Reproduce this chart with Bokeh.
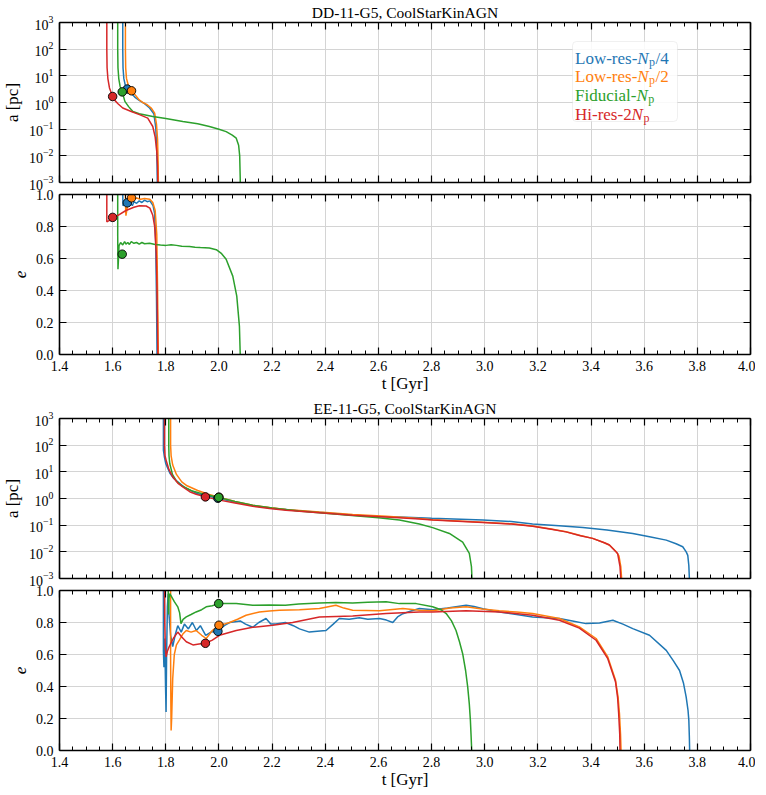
import numpy as np
from bokeh.plotting import figure
from bokeh.models import (LinearAxis, LogAxis, FixedTicker, CustomJSTickFormatter,
                          PrintfTickFormatter, Label, BoxAnnotation, Range1d,
                          ColumnDataSource)
from bokeh.layouts import column
from bokeh.embed import file_html
from bokeh.resources import INLINE

# ---------------- data ----------------
run_keys = ["lr4", "lr2", "fid", "hr2"]
run_colors = {"lr4": "#1f77b4", "lr2": "#ff7f0e", "fid": "#2ca02c", "hr2": "#d62728"}

x_ticks = [1.4, 1.6, 1.8, 2.0, 2.2, 2.4, 2.6, 2.8, 3.0, 3.2, 3.4, 3.6, 3.8, 4.0]
a_ticks = [1e-3, 1e-2, 1e-1, 1e0, 1e1, 1e2, 1e3]
e_ticks = [0.0, 0.2, 0.4, 0.6, 0.8, 1.0]
titles = ["DD-11-G5, CoolStarKinAGN", "EE-11-G5, CoolStarKinAGN"]

# DD-11-G5 : separation a [pc]
dd_lr4_t_a = [1.638, 1.638, 1.639, 1.642, 1.648, 1.655, 1.668, 1.683, 1.700, 1.720, 1.739, 1.755, 1.762, 1.765, 1.767, 1.768]
dd_lr4_a = [1000, 100, 20, 8.0, 4.2, 3.2, 2.3, 1.6, 1.2, 0.9, 0.62, 0.38, 0.12, 0.03, 0.005, 0.001]
dd_lr2_t_a = [1.648, 1.648, 1.649, 1.652, 1.660, 1.671, 1.685, 1.700, 1.713, 1.728, 1.745, 1.758, 1.765, 1.769, 1.771, 1.772]
dd_lr2_a = [1000, 100, 20, 8.0, 4.0, 2.75, 1.9, 1.25, 1.0, 0.85, 0.62, 0.4, 0.15, 0.04, 0.006, 0.001]
dd_fid_t_a = [1.619, 1.619, 1.620, 1.623, 1.628, 1.636, 1.646, 1.660, 1.676, 1.700, 1.751, 1.800, 1.864, 1.920, 1.964, 2.000, 2.027, 2.050, 2.065, 2.074, 2.078, 2.080, 2.080]
dd_fid_a = [1000, 100, 20, 7.9, 4.0, 2.5, 1.1, 0.7, 0.46, 0.38, 0.30, 0.25, 0.195, 0.16, 0.126, 0.10, 0.081, 0.06, 0.046, 0.025, 0.01, 0.0014, 0.001]
dd_hr2_t_a = [1.578, 1.578, 1.579, 1.582, 1.588, 1.600, 1.610, 1.620, 1.638, 1.670, 1.701, 1.732, 1.751, 1.760, 1.766, 1.769, 1.770]
dd_hr2_a = [1000, 100, 20, 7.9, 3.5, 1.68, 1.15, 0.9, 0.62, 0.46, 0.35, 0.26, 0.126, 0.05, 0.015, 0.004, 0.001]

# DD-11-G5 : eccentricity e
dd_lr4_t_e = [1.638, 1.639, 1.645, 1.655, 1.662, 1.668, 1.674, 1.680, 1.690, 1.700, 1.710, 1.720, 1.730, 1.740, 1.752, 1.758, 1.762, 1.765, 1.767]
dd_lr4_e = [1.0, 0.93, 0.94, 0.948, 0.925, 0.945, 0.93, 0.955, 0.945, 0.96, 0.95, 0.965, 0.955, 0.96, 0.93, 0.88, 0.7, 0.35, 0.0]
dd_lr2_t_e = [1.648, 1.649, 1.650, 1.655, 1.662, 1.671, 1.680, 1.690, 1.705, 1.720, 1.740, 1.751, 1.760, 1.766, 1.769, 1.771, 1.772]
dd_lr2_e = [1.0, 0.90, 0.868, 0.92, 0.96, 0.979, 0.972, 0.978, 0.97, 0.975, 0.97, 0.95, 0.9, 0.75, 0.4, 0.1, 0.0]
dd_fid_t_e = [1.619, 1.619, 1.620, 1.622, 1.624, 1.630, 1.638, 1.645, 1.650, 1.657, 1.663, 1.670, 1.680, 1.690, 1.700, 1.710, 1.720, 1.739, 1.760, 1.780, 1.801, 1.820, 1.840, 1.860, 1.889, 1.910, 1.930, 1.964, 1.990, 2.010, 2.027, 2.052, 2.067, 2.077, 2.080]
dd_fid_e = [1.0, 0.75, 0.533, 0.60, 0.68, 0.70, 0.685, 0.705, 0.69, 0.70, 0.688, 0.705, 0.695, 0.70, 0.69, 0.70, 0.692, 0.695, 0.688, 0.685, 0.682, 0.686, 0.682, 0.676, 0.675, 0.67, 0.668, 0.665, 0.655, 0.63, 0.595, 0.49, 0.365, 0.176, 0.0]
dd_hr2_t_e = [1.578, 1.578, 1.585, 1.600, 1.620, 1.650, 1.680, 1.701, 1.726, 1.740, 1.751, 1.758, 1.764, 1.767, 1.769, 1.770]
dd_hr2_e = [1.0, 0.83, 0.835, 0.857, 0.87, 0.90, 0.92, 0.93, 0.928, 0.915, 0.87, 0.80, 0.637, 0.4, 0.15, 0.0]

# EE-11-G5 : separation a [pc]
ee_lr4_t_a = [1.791, 1.791, 1.791, 1.795, 1.800, 1.815, 1.830, 1.870, 1.920, 1.996, 2.060, 2.127, 2.200, 2.300, 2.400, 2.500, 2.600, 2.679, 2.800, 2.993, 3.100, 3.180, 3.280, 3.369, 3.460, 3.557, 3.620, 3.683, 3.720, 3.745, 3.758, 3.764, 3.768, 3.770]
ee_lr4_a = [1000, 100, 65, 35, 20, 9.0, 5.6, 2.6, 1.5, 1.02, 0.74, 0.54, 0.43, 0.35, 0.29, 0.24, 0.21, 0.204, 0.18, 0.155, 0.137, 0.11, 0.095, 0.081, 0.066, 0.049, 0.037, 0.0275, 0.02, 0.0155, 0.01, 0.0074, 0.003, 0.001]
ee_lr2_t_a = [1.818, 1.818, 1.820, 1.826, 1.840, 1.860, 1.880, 1.920, 1.960, 2.000, 2.060, 2.127, 2.190, 2.252, 2.378, 2.503, 2.629, 2.754, 2.804, 2.993, 3.100, 3.180, 3.250, 3.306, 3.360, 3.406, 3.450, 3.469, 3.495, 3.505, 3.512, 3.515]
ee_lr2_a = [1000, 100, 40, 18, 8.0, 4.2, 3.0, 2.0, 1.45, 1.12, 0.78, 0.56, 0.46, 0.39, 0.31, 0.25, 0.214, 0.178, 0.16, 0.13, 0.112, 0.093, 0.072, 0.057, 0.041, 0.032, 0.022, 0.018, 0.01, 0.007, 0.0028, 0.001]
ee_fid_t_a = [1.811, 1.811, 1.812, 1.815, 1.825, 1.840, 1.860, 1.900, 1.950, 1.999, 2.060, 2.127, 2.200, 2.300, 2.400, 2.500, 2.600, 2.679, 2.754, 2.804, 2.867, 2.917, 2.942, 2.950, 2.952]
ee_fid_a = [1000, 100, 40, 20, 8.0, 4.5, 3.0, 1.9, 1.4, 1.1, 0.78, 0.56, 0.44, 0.34, 0.28, 0.23, 0.19, 0.155, 0.11, 0.081, 0.049, 0.023, 0.0087, 0.0028, 0.001]
ee_hr2_t_a = [1.795, 1.795, 1.797, 1.801, 1.812, 1.826, 1.845, 1.864, 1.890, 1.914, 1.949, 2.002, 2.060, 2.127, 2.190, 2.252, 2.378, 2.503, 2.629, 2.754, 2.804, 2.993, 3.100, 3.180, 3.250, 3.306, 3.360, 3.406, 3.450, 3.469, 3.490, 3.500, 3.509, 3.512]
ee_hr2_a = [1000, 100, 40, 27.5, 12, 6.5, 3.8, 2.7, 1.8, 1.45, 1.15, 0.87, 0.68, 0.51, 0.42, 0.36, 0.29, 0.234, 0.204, 0.17, 0.155, 0.126, 0.11, 0.091, 0.07, 0.056, 0.04, 0.032, 0.022, 0.018, 0.011, 0.0087, 0.0028, 0.001]

# EE-11-G5 : eccentricity e
ee_lr4_t_e = [1.791, 1.791, 1.793, 1.796, 1.799, 1.801, 1.803, 1.806, 1.809, 1.812, 1.818, 1.826, 1.835, 1.845, 1.858, 1.870, 1.885, 1.900, 1.915, 1.930, 1.950, 1.970, 1.996, 2.020, 2.040, 2.080, 2.100, 2.127, 2.150, 2.177, 2.195, 2.214, 2.250, 2.280, 2.303, 2.340, 2.370, 2.403, 2.430, 2.453, 2.490, 2.528, 2.560, 2.604, 2.630, 2.654, 2.672, 2.692, 2.720, 2.754, 2.804, 2.860, 2.930, 2.960, 2.993, 3.055, 3.120, 3.180, 3.230, 3.281, 3.330, 3.381, 3.432, 3.482, 3.520, 3.557, 3.620, 3.683, 3.710, 3.733, 3.748, 3.758, 3.765, 3.768, 3.770, 3.771]
ee_lr4_e = [1.0, 0.62, 0.52, 0.70, 0.40, 0.24, 0.60, 0.90, 0.98, 0.85, 0.72, 0.65, 0.72, 0.78, 0.74, 0.79, 0.76, 0.80, 0.75, 0.78, 0.72, 0.74, 0.745, 0.78, 0.80, 0.81, 0.79, 0.77, 0.80, 0.825, 0.79, 0.79, 0.80, 0.78, 0.76, 0.74, 0.745, 0.75, 0.79, 0.825, 0.82, 0.83, 0.82, 0.825, 0.815, 0.80, 0.835, 0.855, 0.87, 0.887, 0.88, 0.89, 0.908, 0.90, 0.886, 0.866, 0.85, 0.835, 0.83, 0.825, 0.81, 0.793, 0.797, 0.814, 0.79, 0.762, 0.72, 0.626, 0.56, 0.50, 0.42, 0.334, 0.25, 0.188, 0.08, 0.0]
ee_lr2_t_e = [1.818, 1.818, 1.819, 1.820, 1.822, 1.826, 1.832, 1.840, 1.851, 1.865, 1.877, 1.895, 1.914, 1.935, 1.952, 1.975, 1.999, 2.020, 2.040, 2.070, 2.102, 2.152, 2.190, 2.227, 2.303, 2.378, 2.440, 2.470, 2.503, 2.604, 2.692, 2.754, 2.804, 2.870, 2.930, 2.990, 3.055, 3.120, 3.180, 3.281, 3.356, 3.419, 3.463, 3.492, 3.502, 3.507, 3.511, 3.513]
ee_lr2_e = [1.0, 0.60, 0.30, 0.125, 0.20, 0.45, 0.60, 0.66, 0.69, 0.73, 0.75, 0.74, 0.75, 0.72, 0.70, 0.75, 0.783, 0.79, 0.80, 0.82, 0.845, 0.866, 0.872, 0.877, 0.88, 0.887, 0.908, 0.89, 0.877, 0.873, 0.887, 0.877, 0.873, 0.89, 0.898, 0.885, 0.873, 0.865, 0.856, 0.825, 0.772, 0.70, 0.585, 0.44, 0.33, 0.23, 0.10, 0.0]
ee_fid_t_e = [1.809, 1.810, 1.812, 1.815, 1.822, 1.832, 1.845, 1.852, 1.857, 1.865, 1.877, 1.895, 1.914, 1.935, 1.952, 1.975, 1.999, 2.065, 2.127, 2.190, 2.250, 2.300, 2.378, 2.440, 2.503, 2.560, 2.629, 2.679, 2.742, 2.804, 2.835, 2.855, 2.875, 2.892, 2.905, 2.917, 2.928, 2.936, 2.942, 2.946, 2.949, 2.951]
ee_fid_e = [1.0, 0.85, 0.95, 0.98, 0.96, 0.93, 0.898, 0.86, 0.793, 0.82, 0.835, 0.85, 0.866, 0.88, 0.898, 0.905, 0.918, 0.918, 0.908, 0.91, 0.908, 0.915, 0.922, 0.925, 0.922, 0.927, 0.929, 0.918, 0.918, 0.898, 0.88, 0.856, 0.81, 0.75, 0.68, 0.605, 0.50, 0.396, 0.29, 0.19, 0.08, 0.0]
ee_hr2_t_e = [1.795, 1.796, 1.798, 1.801, 1.806, 1.813, 1.828, 1.845, 1.860, 1.877, 1.902, 1.925, 1.949, 1.975, 2.002, 2.065, 2.127, 2.202, 2.277, 2.378, 2.503, 2.629, 2.754, 2.804, 2.930, 3.055, 3.180, 3.281, 3.356, 3.419, 3.463, 3.492, 3.500, 3.504, 3.508, 3.509]
ee_hr2_e = [1.0, 0.80, 0.65, 0.585, 0.62, 0.65, 0.70, 0.74, 0.71, 0.68, 0.66, 0.665, 0.67, 0.69, 0.72, 0.75, 0.77, 0.783, 0.80, 0.835, 0.84, 0.856, 0.866, 0.866, 0.873, 0.866, 0.845, 0.814, 0.765, 0.689, 0.574, 0.43, 0.33, 0.23, 0.10, 0.0]

# marked points (binary formation)
dd_mark_t = [1.655, 1.671, 1.636, 1.600]
dd_mark_a = [3.2, 2.75, 2.5, 1.68]
dd_mark_e = [0.948, 0.979, 0.627, 0.857]
ee_mark_t = [1.996, 2.000, 1.999, 1.949]
ee_mark_a = [1.02, 1.12, 1.10, 1.15]
ee_mark_e = [0.745, 0.783, 0.918, 0.67]

legend_names = ["Low-res-", "Low-res-", "Fiducial-", "Hi-res-2"]
legend_suffix = ["/4", "/2", "", ""]

DATA = {
    "dd": {
        "a": {"lr4": (dd_lr4_t_a, dd_lr4_a), "lr2": (dd_lr2_t_a, dd_lr2_a),
              "fid": (dd_fid_t_a, dd_fid_a), "hr2": (dd_hr2_t_a, dd_hr2_a)},
        "e": {"lr4": (dd_lr4_t_e, dd_lr4_e), "lr2": (dd_lr2_t_e, dd_lr2_e),
              "fid": (dd_fid_t_e, dd_fid_e), "hr2": (dd_hr2_t_e, dd_hr2_e)},
        "mark": (dd_mark_t, dd_mark_a, dd_mark_e),
    },
    "ee": {
        "a": {"lr4": (ee_lr4_t_a, ee_lr4_a), "lr2": (ee_lr2_t_a, ee_lr2_a),
              "fid": (ee_fid_t_a, ee_fid_a), "hr2": (ee_hr2_t_a, ee_hr2_a)},
        "e": {"lr4": (ee_lr4_t_e, ee_lr4_e), "lr2": (ee_lr2_t_e, ee_lr2_e),
              "fid": (ee_fid_t_e, ee_fid_e), "hr2": (ee_hr2_t_e, ee_hr2_e)},
        "mark": (ee_mark_t, ee_mark_a, ee_mark_e),
    },
}

# ---------------- style ----------------
FONT = "Liberation Serif"
FRAME_W, FRAME_H = 691, 160
X0, X1 = 1.4, 4.0
x_minor = [round(v, 3) for v in np.arange(1.45, 4.0, 0.05) if abs(round(v / 0.2) * 0.2 - v) > 1e-6]


def style_axis(ax, labels):
    ax.axis_line_color = "black"
    ax.axis_line_width = 1.6
    ax.major_tick_in = 7
    ax.major_tick_out = 0
    ax.minor_tick_in = 4
    ax.minor_tick_out = 0
    ax.major_tick_line_width = 1.2
    ax.minor_tick_line_width = 1.0
    ax.major_tick_line_color = "black"
    ax.minor_tick_line_color = "black"
    ax.major_label_text_font = FONT
    ax.major_label_text_font_size = "14px"
    ax.major_label_text_color = "black"
    ax.axis_label_text_font = FONT
    ax.axis_label_text_font_size = "17px"
    ax.axis_label_text_font_style = "normal"
    ax.axis_label_text_color = "black"
    if labels:
        ax.major_label_standoff = 6
    else:
        ax.formatter = CustomJSTickFormatter(code="return ''")
        ax.major_label_standoff = 0


def make_panel(sim, kind, top, bottom, with_xlabel, title=None, shift=0):
    common = dict(frame_width=FRAME_W, frame_height=FRAME_H,
                  min_border_left=55, min_border_right=9,
                  min_border_top=top, min_border_bottom=bottom,
                  output_backend="svg", toolbar_location=None,
                  x_range=Range1d(X0, X1), background_fill_color="white",
                  border_fill_color=None)
    if kind == "a":
        p = figure(y_axis_type="log", y_range=Range1d(1e-3, 1e3), **common)
        yt = a_ticks
    else:
        p = figure(y_range=Range1d(0.0, 1.0), **common)
        yt = e_ticks
    p.outline_line_color = None
    if shift:
        p.styles = {"margin-top": "%dpx" % shift}

    if title is not None:
        p.title.text = title
        p.title.align = "center"
        p.title.text_font = FONT
        p.title.text_font_size = "15.5px"
        p.title.text_font_style = "normal"
        p.title.text_color = "black"
        p.title.standoff = 3
        p.title.offset = 0

    xb = p.xaxis[0]
    xb.ticker = FixedTicker(ticks=x_ticks, minor_ticks=x_minor)
    style_axis(xb, with_xlabel)
    if with_xlabel:
        xb.formatter = PrintfTickFormatter(format="%.1f")
        xb.axis_label = "t [Gyr]"
        xb.axis_label_standoff = 0

    yl = p.yaxis[0]
    yl.ticker = FixedTicker(ticks=yt, minor_ticks=[])
    style_axis(yl, True)
    yl.axis_label_standoff = 4
    if kind == "a":
        yl.axis_label = "a [pc]"
    else:
        yl.formatter = PrintfTickFormatter(format="%.1f")
        yl.axis_label = "e"
        yl.axis_label_text_font_style = "italic"
        yl.axis_label_standoff = 7

    xa = LinearAxis(ticker=FixedTicker(ticks=x_ticks, minor_ticks=x_minor))
    style_axis(xa, False)
    p.add_layout(xa, "above")
    ya = LogAxis() if kind == "a" else LinearAxis()
    ya.ticker = FixedTicker(ticks=yt, minor_ticks=[])
    style_axis(ya, False)
    p.add_layout(ya, "right")

    p.xgrid.ticker = FixedTicker(ticks=x_ticks, minor_ticks=[])
    p.ygrid.ticker = FixedTicker(ticks=yt, minor_ticks=[])
    for g in (p.xgrid, p.ygrid):
        g.grid_line_color = "#d4d4d4"
        g.grid_line_width = 1.0

    d = DATA[sim][kind]
    for k in run_keys:
        t, v = d[k]
        p.line(x=t, y=v, line_color=run_colors[k], line_width=1.5)
    mt, ma, me = DATA[sim]["mark"]
    src = ColumnDataSource(dict(t=mt, v=(ma if kind == "a" else me),
                                c=[run_colors[k] for k in run_keys]))
    p.scatter(x="t", y="v", source=src, size=8.5, fill_color="c",
              line_color="black", line_width=0.9)
    return p


p1 = make_panel("dd", "a", 21, 20, False, titles[0])
p2 = make_panel("dd", "e", 20, 42, True, shift=-28)
p3 = make_panel("ee", "a", 21, 20, False, titles[1])
p4 = make_panel("ee", "e", 20, 36, True, shift=-28)

# ---------------- legend (top panel) ----------------
def px_to_t(px):
    return X0 + (px - 60.0) * (X1 - X0) / FRAME_W


def py_to_a(py):
    return 10 ** (3.0 - (py - 21.0) * 6.0 / FRAME_H)


p1.add_layout(BoxAnnotation(left=px_to_t(573), right=px_to_t(678),
                            top=py_to_a(40), bottom=py_to_a(120),
                            fill_color="white", fill_alpha=0.85,
                            line_color="#cccccc", line_width=1.0,
                            border_radius=4))
base_y = [56.7, 75.3, 94.0, 112.7]
name_w = [62.3, 62.3, 61.4, 56.6]
tx = px_to_t(575.5)
for i, k in enumerate(run_keys):
    ay = py_to_a(base_y[i])
    col = run_colors[k]
    pieces = [(legend_names[i], "normal", "17px", 0.0, 0.0),
              ("N", "italic", "17px", name_w[i], 0.0),
              ("p", "normal", "12px", name_w[i] + 11.8, -3.5)]
    if legend_suffix[i]:
        pieces.append((legend_suffix[i], "normal", "17px", name_w[i] + 18.2, 0.0))
    for txt, sty, sz, dx, dy in pieces:
        p1.add_layout(Label(x=tx, y=ay, x_offset=dx, y_offset=dy, text=txt,
                            text_align="left", text_baseline="alphabetic",
                            text_font=FONT, text_font_style=sty,
                            text_font_size=sz, text_color=col))

layout = column(p1, p2, p3, p4)
open("out.html", "w").write(file_html(layout, INLINE))
